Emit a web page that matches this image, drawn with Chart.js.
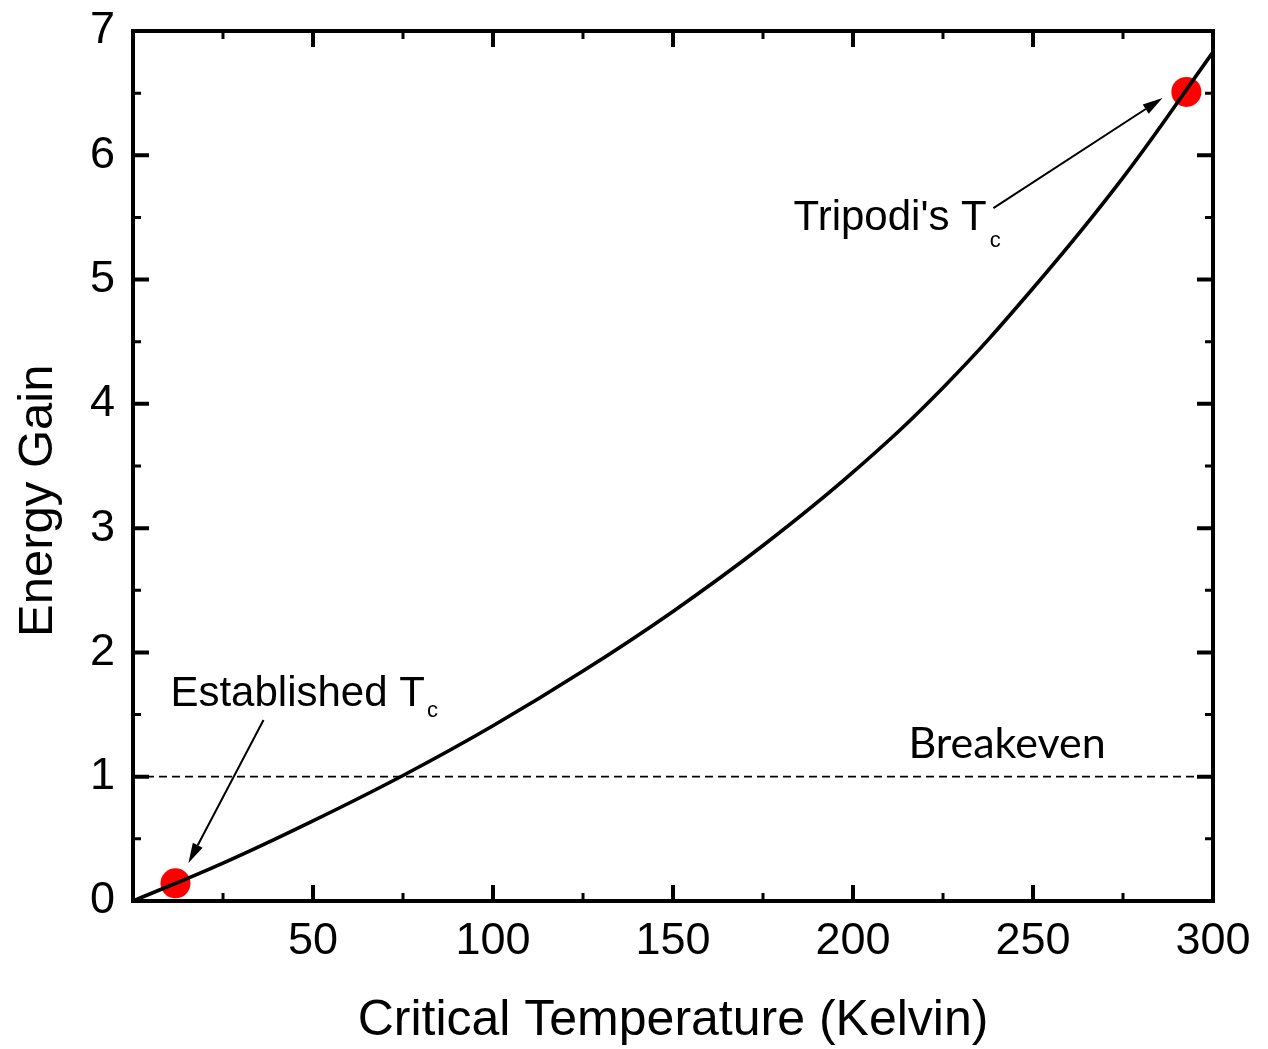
<!DOCTYPE html>
<html>
<head>
<meta charset="utf-8">
<script src="https://cdn.jsdelivr.net/npm/chart.js@4/dist/chart.umd.min.js"></script>
<style>
  html, body { margin: 0; padding: 0; background: #fff; }
  #wrap { width: 1268px; height: 1049px; }
</style>
</head>
<body>
<div id="wrap"><canvas id="c" width="1268" height="1049"></canvas></div>
<script>
// ---- data ----
const curveX = [0, 25, 50, 75, 100, 125, 150, 175, 200, 225, 250, 275, 300];
const curveY = [0, 0.305, 0.645, 1.01, 1.41, 1.85, 2.33, 2.86, 3.45, 4.13, 4.93, 5.82, 6.83];
const tcX = [11.8, 292.6];
const tcY = [0.142, 6.51];
const breakevenX = [0, 300];
const breakevenY = [1, 1];
const xTickValues = [50, 100, 150, 200, 250, 300];
const yTickValues = [0, 1, 2, 3, 4, 5, 6, 7];
const xTitle = 'Critical Temperature (Kelvin)';
const yTitle = 'Energy Gain';

const toXY = (xs, ys) => xs.map((x, i) => ({x: x, y: ys[i]}));

const SANS = '"Liberation Sans", Arial, sans-serif';

// annotations (anchors in data units)
const notes = [
  {text: 'Established T', sub: 'c', x: 10.4, y: 1.569, font: '42px ' + SANS, subFont: '22px ' + SANS, subDx: 2, subDy: 11},
  {text: "Tripodi's T", sub: 'c', x: 183.5, y: 5.398, font: '42px ' + SANS, subFont: '22px ' + SANS, subDx: 3, subDy: 17},
  {text: 'Breakeven', sub: '', x: 215.4, y: 1.15, font: '43px Lato, "Open Sans", sans-serif'}
];
const arrows = [
  {x0: 36.25, y0: 1.456, x1: 15.4, y1: 0.306},
  {x0: 239.0, y0: 5.575, x1: 285.97, y1: 6.46}
];

const framePlugin = {
  id: 'frame',
  afterDatasetsDraw(chart) {
    const ctx = chart.ctx;
    const xs = chart.scales.x, ys = chart.scales.y;
    const a = chart.chartArea;
    ctx.save();
    ctx.strokeStyle = '#000';
    ctx.lineCap = 'butt';
    // ticks
    for (let v = 0; v <= 300; v += 25) {
      const major = v % 50 === 0;
      const len = major ? 16 : 8;
      const px = xs.getPixelForValue(v);
      ctx.lineWidth = major ? 4 : 3;
      ctx.beginPath();
      ctx.moveTo(px, a.bottom); ctx.lineTo(px, a.bottom - len);
      ctx.moveTo(px, a.top); ctx.lineTo(px, a.top + len);
      ctx.stroke();
    }
    for (let v = 0; v <= 7; v += 0.5) {
      const major = Number.isInteger(v);
      const len = major ? 16 : 8;
      const py = ys.getPixelForValue(v);
      ctx.lineWidth = major ? 4 : 3;
      ctx.beginPath();
      ctx.moveTo(a.left, py); ctx.lineTo(a.left + len, py);
      ctx.moveTo(a.right, py); ctx.lineTo(a.right - len, py);
      ctx.stroke();
    }
    // frame
    ctx.lineWidth = 4;
    ctx.lineJoin = 'miter';
    ctx.strokeRect(a.left, a.top, a.right - a.left, a.bottom - a.top);

    // arrows
    ctx.lineWidth = 2;
    ctx.fillStyle = '#000';
    arrows.forEach(ar => {
      const x0 = xs.getPixelForValue(ar.x0), y0 = ys.getPixelForValue(ar.y0);
      const x1 = xs.getPixelForValue(ar.x1), y1 = ys.getPixelForValue(ar.y1);
      const ang = Math.atan2(y1 - y0, x1 - x0);
      const hl = 20, hw = 5.5;
      const bx = x1 - hl * Math.cos(ang), by = y1 - hl * Math.sin(ang);
      ctx.beginPath();
      ctx.moveTo(x0, y0); ctx.lineTo(bx, by);
      ctx.stroke();
      ctx.beginPath();
      ctx.moveTo(x1, y1);
      ctx.lineTo(bx + hw * Math.sin(ang), by - hw * Math.cos(ang));
      ctx.lineTo(bx - hw * Math.sin(ang), by + hw * Math.cos(ang));
      ctx.closePath();
      ctx.fill();
    });

    // text annotations
    ctx.textBaseline = 'alphabetic';
    ctx.textAlign = 'left';
    notes.forEach(n => {
      const px = xs.getPixelForValue(n.x), py = ys.getPixelForValue(n.y);
      ctx.font = n.font;
      ctx.fillText(n.text, px, py);
      if (n.sub) {
        const w = ctx.measureText(n.text).width;
        ctx.font = n.subFont;
        ctx.fillText(n.sub, px + w + n.subDx, py + n.subDy);
      }
    });

    // y axis title (offset toward bottom as in the original)
    ctx.save();
    ctx.font = '49px ' + SANS;
    ctx.textAlign = 'center';
    ctx.textBaseline = 'middle';
    ctx.translate(38, ys.getPixelForValue(3.22));
    ctx.rotate(-Math.PI / 2);
    ctx.fillText(yTitle, 0, 0);
    ctx.restore();

    ctx.restore();
  }
};

new Chart(document.getElementById('c'), {
  type: 'scatter',
  data: {
    datasets: [
      {
        label: 'Breakeven',
        data: toXY(breakevenX, breakevenY),
        showLine: true,
        borderColor: '#000',
        borderWidth: 1.8,
        borderDash: [8, 5],
        pointRadius: 0,
        fill: false
      },
      {
        label: 'Energy Gain',
        data: toXY(curveX, curveY),
        showLine: true,
        borderColor: '#000',
        borderWidth: 3.6,
        tension: 0.4,
        pointRadius: 0,
        fill: false
      },
      {
        label: 'Tc',
        data: toXY(tcX, tcY),
        showLine: false,
        pointRadius: 15,
        pointHoverRadius: 15,
        pointBackgroundColor: '#ff0000',
        pointBorderColor: '#ff0000',
        pointBorderWidth: 0
      }
    ]
  },
  options: {
    responsive: false,
    animation: false,
    events: [],
    layout: { padding: { left: 0, top: 31, right: 55, bottom: 0 } },
    plugins: {
      legend: { display: false },
      tooltip: { enabled: false }
    },
    scales: {
      x: {
        type: 'linear',
        min: 0, max: 300,
        afterBuildTicks(scale) { scale.ticks = xTickValues.map(v => ({value: v})); },
        afterFit(scale) {
          scale.height = 148;
          scale.paddingLeft = 0; scale.paddingRight = 0;
        },
        grid: { display: false, drawTicks: false },
        border: { display: false },
        ticks: {
          color: '#000',
          padding: 14,
          maxRotation: 0,
          font: { family: SANS, size: 45 }
        },
        title: {
          display: true,
          text: xTitle,
          color: '#000',
          padding: { top: 0, bottom: 0 },
          font: { family: SANS, size: 50, lineHeight: 1.1 }
        }
      },
      y: {
        type: 'linear',
        min: 0, max: 7,
        afterBuildTicks(scale) { scale.ticks = yTickValues.map(v => ({value: v})); },
        afterFit(scale) {
          scale.width = 133;
          scale.paddingTop = 0; scale.paddingBottom = 0;
        },
        grid: { display: false, drawTicks: false },
        border: { display: false },
        ticks: {
          color: '#000',
          padding: 18,
          font: { family: SANS, size: 45 }
        }
      }
    }
  },
  plugins: [framePlugin]
});
</script>
</body>
</html>
